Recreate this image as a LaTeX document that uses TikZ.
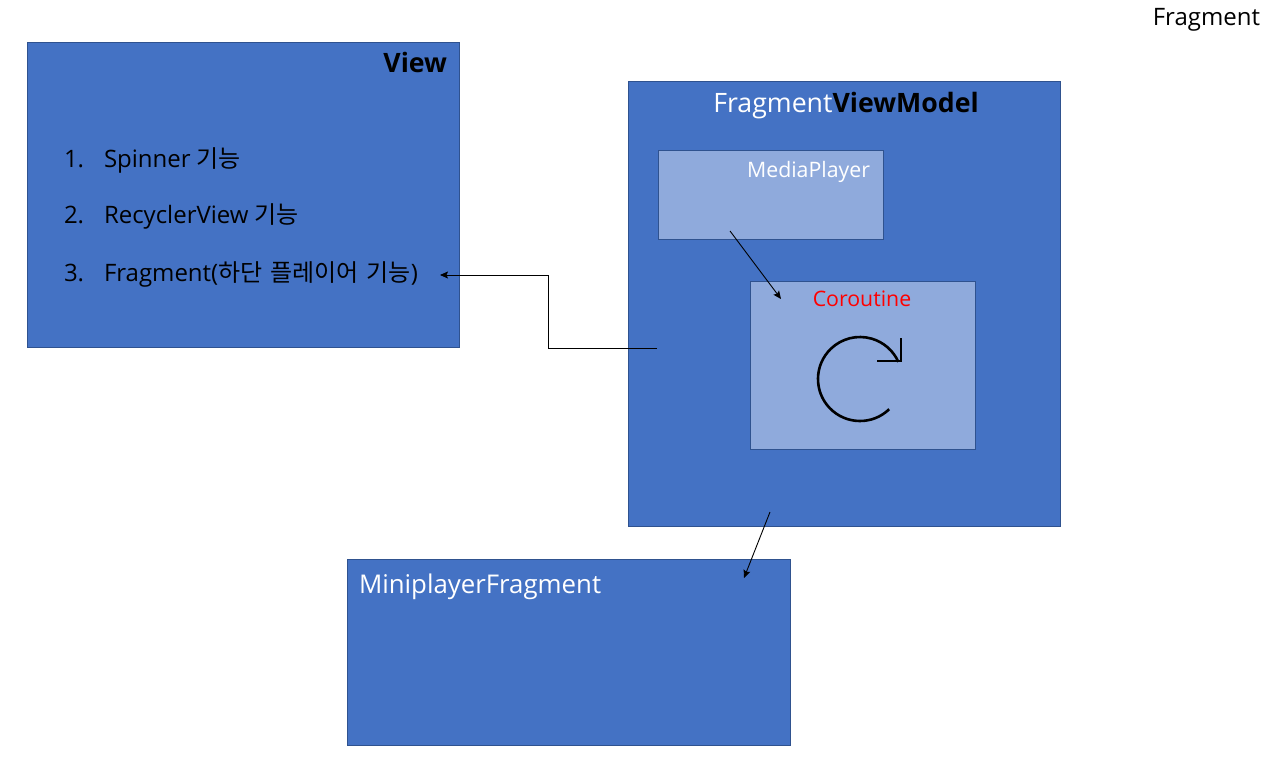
\documentclass[tikz,border=0pt]{standalone}
\usepackage{fontspec}
\setmainfont{Open Sans}
\newfontfamily\kr{Noto Sans CJK KR}
\usetikzlibrary{arrows.meta}
\definecolor{boxblue}{HTML}{4472C4}
\definecolor{boxedge}{HTML}{2F528F}
\definecolor{lightblue}{HTML}{8FAADC}
\definecolor{corored}{HTML}{FF0000}
\begin{document}
\begin{tikzpicture}[x=1pt,y=-1pt,
  bigbox/.style={draw=boxedge, fill=boxblue, line width=0.9pt, inner sep=0pt, outer sep=0pt, anchor=north west},
  smallbox/.style={draw=boxedge, fill=lightblue, line width=0.9pt, inner sep=0pt, outer sep=0pt, anchor=north west},
  lbl/.style={inner sep=0pt, outer sep=0pt},
  head/.style={lbl, font=\fontsize{26.7}{32}\selectfont},
  body/.style={lbl, font=\fontsize{24}{28}\selectfont},
  small/.style={lbl, font=\fontsize{21.3}{26}\selectfont},
  conn/.style={draw=black, line width=0.9pt, -{Stealth[length=8pt,width=7pt,inset=1.5pt]}},
]
\useasboundingbox (0,0) rectangle (1267,760);

% boxes
\node[bigbox, minimum width=432pt, minimum height=305pt] (view) at (27,42) {};
\node[bigbox, minimum width=432pt, minimum height=445pt] (fvm) at (628,81) {};
\node[smallbox, minimum width=225pt, minimum height=89pt] (mp) at (658,150) {};
\node[smallbox, minimum width=225pt, minimum height=168pt] (co) at (750,281) {};
\node[bigbox, minimum width=443pt, minimum height=186pt] (mini) at (347,559) {};

% labels
\node[body, anchor=base east] (fraglbl) at (1260,26) {Fragment};
\node[head, anchor=base east, font=\fontsize{26.7}{32}\selectfont\bfseries] (viewlbl) at (447,73) {View};
\node[body, anchor=base west] (n1) at (64,167) {1.};
\node[body, anchor=base west] (t1) at (104,167) {Spinner {\kr 기능}};
\node[body, anchor=base west] (n2) at (64,223) {2.};
\node[body, anchor=base west] (t2) at (104,223) {RecyclerView {\kr 기능}};
\node[body, anchor=base west] (n3) at (64,281) {3.};
\node[body, anchor=base west] (t3) at (104,281) {Fragment({\kr 하단\hspace{8pt}플레이어\hspace{8pt}기능})};
\node[head, anchor=base, text=white] (fvmlbl) at (846,112) {Fragment\textcolor{black}{\bfseries ViewModel}};
\node[small, anchor=base east, text=white] (mplbl) at (870,177) {MediaPlayer};
\node[small, anchor=base, text=corored] (colbl) at (862,306) {Coroutine};
\node[head, anchor=base west, text=white, font=\fontsize{25.8}{31}\selectfont] (minilbl) at (359,593) {MiniplayerFragment};

% loop symbol
\draw[line width=2.6pt] (860,379) ++(46:42) arc[start angle=46, end angle=336, radius=42];
\draw[line width=2.6pt] (877,361) -- (901,361) -- (901,338);

% connectors
\coordinate (vmout) at (657,348);
\coordinate (bend) at (548,348);
\coordinate (fragin) at (440,275);
\draw[conn] (vmout) -- (bend) |- (fragin);

\coordinate (mpout) at (730,231);
\coordinate (coin) at (781,299);
\draw[conn] (mpout) -- (coin);

\coordinate (fvmout) at (770,512);
\coordinate (miniin) at (744,578);
\draw[conn] (fvmout) -- (miniin);
\end{tikzpicture}
\end{document}
